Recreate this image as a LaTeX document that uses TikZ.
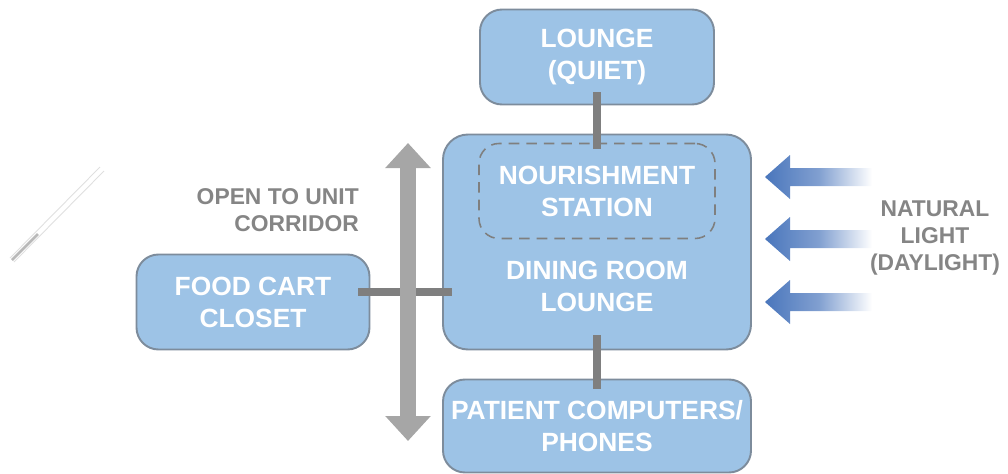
\documentclass[tikz,border=0pt]{standalone}
\usepackage{fontspec}
\setmainfont{Liberation Sans}
\usepackage{tikz}
\usetikzlibrary{calc,positioning,arrows.meta}
\definecolor{roomblue}{HTML}{9DC3E6}
\definecolor{roomedge}{HTML}{7D8C9C}
\definecolor{linkgray}{HTML}{7F7F7F}
\definecolor{corrgray}{HTML}{A6A6A6}
\definecolor{labelgray}{HTML}{858585}
\definecolor{lightblue}{HTML}{4A76BC}

\begin{document}
\begin{tikzpicture}[
  x=0.2mm, y=-0.2mm,
  room/.style={fill=roomblue, draw=roomedge, line width=1.1pt, rounded corners=4.4mm, align=center, text=white, font=\fontsize{15}{18.2}\selectfont\bfseries, inner sep=0pt},
  roomtext/.style={align=center, text=white, font=\fontsize{15}{18.2}\selectfont\bfseries},
  station/.style={draw=linkgray, dashed, dash pattern=on 6pt off 4pt, line width=0.9pt, rounded corners=4mm, minimum width=47.2mm, minimum height=19mm},
  link/.style={linkgray, line width=1.6mm},
  note/.style={text=labelgray, font=\fontsize{13}{15.3}\selectfont\bfseries},
  corridor/.style={corrgray, line width=3.2mm, {Triangle[width=8.8mm,length=5mm]}-{Triangle[width=8.8mm,length=5mm]}}
]
  \useasboundingbox (0,0) rectangle (1008,474);

  % decorative slash
  \draw[gray!25, line width=0.5pt] (14,262) -- (104,171);
  \draw[gray!25, line width=0.5pt] (10,258) -- (100,167);
  \draw[gray!55, line width=1.6pt] (12,260) -- (38,234);

  % rooms
  \node[room, minimum width=46.8mm, minimum height=19mm] (lounge) at (597,57) {LOUNGE\\(QUIET)};
  \node[room, minimum width=61.6mm, minimum height=43mm, rounded corners=5mm] (dining) at (597,242) {};
  \node[station] (nourish) at (597,191) {};
  \node[roomtext] (nourishtext) at (597,191) {NOURISHMENT\\STATION};
  \node[roomtext] (diningtext) at (597,286) {DINING ROOM\\LOUNGE};
  \node[room, minimum width=61.6mm, minimum height=18.6mm] (patient) at (597,426) {PATIENT COMPUTERS/\\PHONES};
  \node[room, minimum width=46.6mm, minimum height=19mm] (foodcart) at (253,302) {FOOD CART\\CLOSET};

  % links between rooms
  \draw[link] ($(lounge.south)+(0,-13)$) -- ($(dining.north)+(0,15)$);
  \draw[link] ($(foodcart.east)+(-12,-10)$) -- ($(dining.west |- foodcart.east)+(10,-10)$);
  \draw[link] ($(dining.south)+(0,-15)$) -- ($(patient.north)+(0,10)$);

  % unit corridor
  \coordinate (corrtop) at (408,143);
  \coordinate (corrbot) at (408,441);
  \draw[corridor] (corrtop) -- (corrbot);
  \node[note, anchor=east, align=right] (corrlabel) at (365,210) {OPEN TO UNIT\\CORRIDOR};

  % daylight
  \foreach \y in {177,239,302}
    \shade[left color=lightblue, right color=white, middle color=lightblue!70]
      (765,\y) -- (790,\y-22) -- (790,\y-9) -- (872,\y-9) -- (872,\y+9) -- (790,\y+9) -- (790,\y+22) -- cycle;
  \node[note, align=center] (daylight) at (935,238) {NATURAL\\LIGHT\\(DAYLIGHT)};
\end{tikzpicture}
\end{document}
